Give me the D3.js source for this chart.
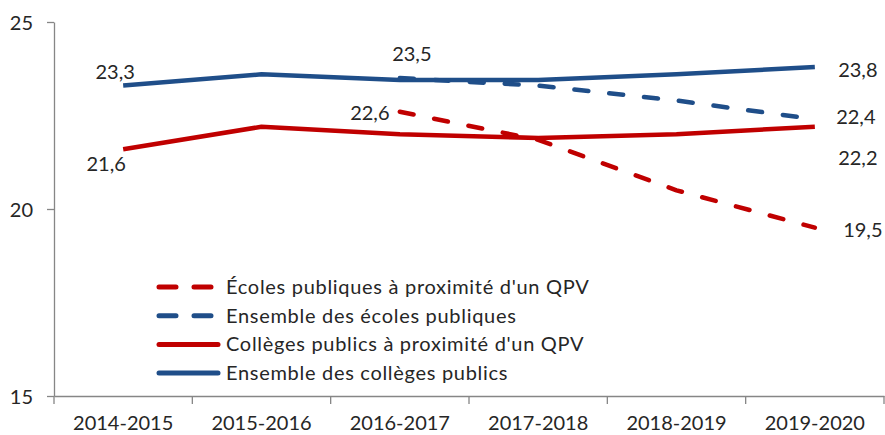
<!DOCTYPE html>
<html>
<head>
    <meta charset="utf-8">
    <script src="https://d3js.org/d3.v7.min.js"></script>
    <style>
        body { margin: 0; background: #fff; }
        svg text { font-family: Lato, "Open Sans", sans-serif; fill: #262626; }
        .axis path, .axis line { stroke: #868686; stroke-width: 1.3; }
    </style>
</head>
<body>
<svg id="chart" width="885" height="435"></svg>
<script>
    const years = ["2014-2015", "2015-2016", "2016-2017", "2017-2018", "2018-2019", "2019-2020"];
    const yTicks = [15, 20, 25];

    // null = no value for that year
    const ecolesQpv = [null, null, 22.6, 21.85, 20.5, 19.5];
    const ecolesAll = [null, null, 23.5, 23.3, 22.9, 22.4];
    const collegesQpv = [21.6, 22.2, 22.0, 21.9, 22.0, 22.2];
    const collegesAll = [23.3, 23.6, 23.45, 23.45, 23.6, 23.8];

    const seriesNames = [
        "Écoles publiques à proximité d'un QPV",
        "Ensemble des écoles publiques",
        "Collèges publics à proximité d'un QPV",
        "Ensemble des collèges publics"
    ];

    const red = "#C00000", blue = "#1F4E89";
    const series = [
        { name: seriesNames[0], values: ecolesQpv, color: red, dashed: true },
        { name: seriesNames[1], values: ecolesAll, color: blue, dashed: true },
        { name: seriesNames[2], values: collegesQpv, color: red, dashed: false },
        { name: seriesNames[3], values: collegesAll, color: blue, dashed: false }
    ];

    const svg = d3.select("#chart");
    const margin = { top: 22, right: 1, bottom: 39, left: 54 };
    const width = +svg.attr("width"), height = +svg.attr("height");

    const x = d3.scaleBand().domain(years).range([margin.left, width - margin.right]);
    const y = d3.scaleLinear().domain([15, 25]).range([height - margin.bottom, margin.top]);
    const cx = d => x(d) + x.bandwidth() / 2;

    const fr = d3.formatLocale({ decimal: ",", thousands: " ", grouping: [3], currency: ["", " €"] });
    const fmt = fr.format(".1f");

    // y axis
    svg.append("g")
        .attr("class", "axis")
        .attr("transform", `translate(${margin.left},0)`)
        .call(d3.axisLeft(y).tickValues(yTicks).tickSize(7).tickSizeOuter(0).tickPadding(14))
        .call(g => g.selectAll("text").style("font-size", "20px").attr("dy", "0.35em"));

    // x axis: labels centred, tick marks on band edges
    const xAxis = svg.append("g")
        .attr("class", "axis")
        .attr("transform", `translate(0,${y(15)})`)
        .call(d3.axisBottom(x).tickSize(0).tickSizeOuter(0).tickPadding(20));
    xAxis.selectAll("text").style("font-size", "20px");
    xAxis.selectAll(".edge")
        .data(years.map(d => x(d)).concat([x.range()[1]]))
        .enter().append("line")
        .attr("class", "edge")
        .attr("x1", d => d).attr("x2", d => d)
        .attr("y1", 0).attr("y2", 8);

    const line = d3.line()
        .defined(d => d.v !== null)
        .x(d => cx(d.year))
        .y(d => y(d.v));

    const drawOrder = [series[2], series[3], series[1], series[0]];
    svg.append("g").selectAll("path")
        .data(drawOrder)
        .enter().append("path")
        .attr("fill", "none")
        .attr("stroke", d => d.color)
        .attr("stroke-width", 4.5)
        .attr("stroke-linecap", d => d.dashed ? "round" : "butt")
        .attr("stroke-linejoin", "round")
        .attr("stroke-dasharray", d => d.dashed ? "14,21" : null)
        .attr("d", d => line(d.values.map((v, i) => ({ year: years[i], v: v }))));

    // data labels: [series index, year index, dx, dy]
    const labelPlaces = [
        [3, 0, -8, -14], [2, 0, -17, 15],
        [1, 2, 12, -24], [0, 2, -30, 1],
        [3, 5, 43, 3], [1, 5, 41, -2], [2, 5, 43, 31], [0, 5, 48, 2]
    ];
    svg.append("g").selectAll("text")
        .data(labelPlaces)
        .enter().append("text")
        .attr("x", d => cx(years[d[1]]) + d[2])
        .attr("y", d => y(series[d[0]].values[d[1]]) + d[3])
        .attr("text-anchor", "middle")
        .attr("dy", "0.35em")
        .style("font-size", "20px")
        .text(d => fmt(series[d[0]].values[d[1]]));

    // legend
    const legend = svg.append("g").attr("transform", "translate(157,287)");
    const item = legend.selectAll("g")
        .data(series)
        .enter().append("g")
        .attr("transform", (d, i) => `translate(0,${i * 28.7})`);
    item.append("line")
        .attr("x1", 2).attr("x2", 61).attr("y1", 0).attr("y2", 0)
        .attr("stroke", d => d.color)
        .attr("stroke-width", 5)
        .attr("stroke-linecap", "round")
        .attr("stroke-dasharray", d => d.dashed ? "17,18" : null);
    item.append("text")
        .attr("x", 69)
        .attr("dy", "0.35em")
        .style("font-size", "20px")
        .style("letter-spacing", "0.7px")
        .text(d => d.name);
</script>
</body>
</html>
